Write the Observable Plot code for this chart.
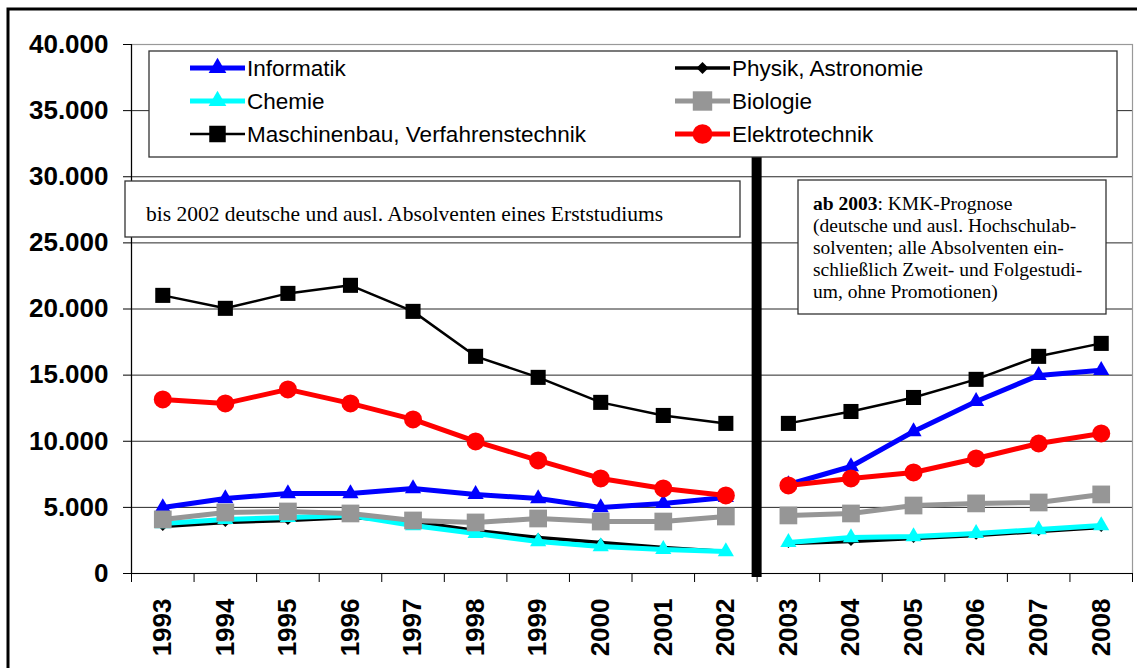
<!DOCTYPE html>
<html>
<head>
<meta charset="utf-8">
<script src="https://cdn.jsdelivr.net/npm/d3@7"></script>
<script src="https://cdn.jsdelivr.net/npm/@observablehq/plot@0.6"></script>
<style>
  html, body { margin: 0; padding: 0; background: #fff; }
  #chart svg { display: block; }
</style>
</head>
<body>
<div id="chart"></div>
<script>
// ---- data ----
const years = [1993,1994,1995,1996,1997,1998,1999,2000,2001,2002,2003,2004,2005,2006,2007,2008];
const informatik     = [4990,5670,6050,6050,6430,5980,5670,4990,5300,5750, 6730,8090,10740,13010,14980,15360];
const physik         = [3550,3860,4010,4240,3930,3250,2720,2350,1970,1660, 2270,2420,2650,2880,3180,3480];
const chemie         = [3780,4090,4240,4390,3630,3030,2420,2040,1820,1660, 2350,2720,2800,3030,3330,3630];
const biologie       = [4090,4610,4690,4540,4010,3860,4160,3930,3930,4310, 4390,4540,5140,5300,5370,5980];
const maschinenbau   = [21030,20050,21180,21790,19820,16420,14830,12940,11950,11350, 11350,12250,13310,14680,16420,17400];
const elektrotechnik = [13160,12860,13920,12860,11650,9990,8550,7190,6430,5900, 6660,7190,7640,8700,9830,10590];
const yTicks = [0,5000,10000,15000,20000,25000,30000,35000,40000];
const lastObserved = 2002;
const note1 = "bis 2002 deutsche und ausl. Absolventen eines Erststudiums";
const note2Bold = "ab 2003";
const note2Lines = [": KMK-Prognose", "(deutsche und ausl. Hochschulab-", "solventen; alle Absolventen ein-", "schließlich Zweit- und Folgestudi-", "um, ohne Promotionen)"];

// series styling (legend order = drawing order)
const series = [
  {name: "Informatik", values: informatik, color: "#0000ff", width: 5, symbol: "triangle", r: 6},
  {name: "Physik, Astronomie", values: physik, color: "#000000", width: 3.5, symbol: "diamond2", r: 4},
  {name: "Chemie", values: chemie, color: "#00ffff", width: 5, symbol: "triangle", r: 6},
  {name: "Biologie", values: biologie, color: "#969696", width: 5, symbol: "square", r: 10},
  {name: "Maschinenbau, Verfahrenstechnik", values: maschinenbau, color: "#000000", width: 2.5, symbol: "square", r: 8.5},
  {name: "Elektrotechnik", values: elektrotechnik, color: "#ff0000", width: 5, symbol: "circle", r: 9}
];

const de = d3.formatLocale({decimal: ",", thousands: ".", grouping: [3], currency: ["", " €"]});
const fmt = de.format(",");

const bounds = d3.range(years[0] - 0.5, years[years.length - 1] + 1, 1);

const marks = [
  Plot.gridY(yTicks.filter(v => v > 0 && v < 40000), {stroke: "#000", strokeOpacity: 0.85, strokeWidth: 1}),
  Plot.frame({stroke: "#999", strokeWidth: 1.2}),
  Plot.axisY(yTicks, {tickSize: 8, tickPadding: 15, tickFormat: fmt, fontSize: 26, fontWeight: "bold", label: null, stroke: "#000"}),
  Plot.axisX(bounds, {tickSize: 9, tickFormat: () => "", label: null, stroke: "#000"}),
  Plot.axisX(years, {tickSize: 0, tickPadding: 25, tickRotate: -90, tickFormat: d => String(d), fontSize: 26, fontWeight: "bold", label: null}),
  Plot.ruleX([bounds[0]], {stroke: "#000", strokeWidth: 1.2}),
  Plot.ruleY([0], {stroke: "#000", strokeWidth: 1.2})
];

for (const s of series) {
  const rows = years.map((y, i) => ({year: y, value: s.values[i], seg: y <= lastObserved ? "a" : "b"}));
  marks.push(Plot.line(rows, {x: "year", y: "value", z: "seg", stroke: s.color, strokeWidth: s.width}));
  marks.push(Plot.dot(rows, {x: "year", y: "value", symbol: () => s.symbol, r: s.r, fill: s.color, stroke: "none"}));
}

const plot = Plot.plot({
  width: 1137,
  height: 668,
  marginLeft: 131,
  marginRight: 5,
  marginTop: 44,
  marginBottom: 95,
  x: {type: "linear", domain: [bounds[0], bounds[bounds.length - 1]]},
  y: {domain: [0, 40000]},
  style: {fontFamily: "'Liberation Sans', Arial, sans-serif", background: "#fff", color: "#000"},
  marks
});

document.getElementById("chart").appendChild(plot);

// ---- annotations drawn with the plot's own scales ----
const svg = d3.select(plot);
const X = plot.scale("x"), Y = plot.scale("y");

// separator between observed and forecast
const sx = X.apply(lastObserved + 0.5);
svg.append("line")
  .attr("x1", sx).attr("x2", sx)
  .attr("y1", 155).attr("y2", Y.apply(0) + 4)
  .attr("stroke", "#000").attr("stroke-width", 10);

// legend box
const lg = svg.append("g").attr("text-anchor", "start");
lg.append("rect").attr("x", 149).attr("y", 51).attr("width", 968).attr("height", 106)
  .attr("fill", "#fff").attr("stroke", "#333").attr("stroke-width", 1.3);
const symMap = {triangle: d3.symbolTriangle, diamond2: d3.symbolDiamond2, square: d3.symbolSquare, circle: d3.symbolCircle};
series.forEach((s, i) => {
  const col = i % 2, row = Math.floor(i / 2);
  const x0 = col === 0 ? 190 : 675;
  const y0 = 68 + row * 33;
  lg.append("line").attr("x1", x0).attr("x2", x0 + 55).attr("y1", y0).attr("y2", y0)
    .attr("stroke", s.color).attr("stroke-width", s.width);
  lg.append("path").attr("d", d3.symbol(symMap[s.symbol], Math.PI * s.r * s.r * (s.symbol === "diamond2" ? 1.8 : 1.2))())
    .attr("transform", `translate(${x0 + 27.5},${y0})`).attr("fill", s.color);
  lg.append("text").attr("x", x0 + 57).attr("y", y0).attr("dy", "0.35em")
    .attr("font-size", 22.5).attr("font-family", "'Liberation Sans', Arial, sans-serif")
    .text(s.name);
});

// note 1
const n1 = svg.append("g").attr("text-anchor", "start");
n1.append("rect").attr("x", 125).attr("y", 181).attr("width", 615).attr("height", 56)
  .attr("fill", "#fff").attr("stroke", "#333").attr("stroke-width", 1.3);
n1.append("text").attr("x", 146).attr("y", 221).attr("font-size", 21.5)
  .attr("font-family", "'Liberation Serif', 'Times New Roman', serif").text(note1);

// note 2
const n2 = svg.append("g").attr("text-anchor", "start");
n2.append("rect").attr("x", 798).attr("y", 180).attr("width", 308).attr("height", 134)
  .attr("fill", "#fff").attr("stroke", "#333").attr("stroke-width", 1.3);
note2Lines.forEach((line, i) => {
  const t = n2.append("text").attr("x", 813).attr("y", 210 + i * 22).attr("font-size", 19.5)
    .attr("font-family", "'Liberation Serif', 'Times New Roman', serif");
  if (i === 0) t.append("tspan").attr("font-weight", "bold").text(note2Bold);
  t.append("tspan").text(line);
});

// outer frame
svg.append("rect").attr("x", 8).attr("y", 9).attr("width", 1140).attr("height", 670)
  .attr("fill", "none").attr("stroke", "#000").attr("stroke-width", 3);
</script>
</body>
</html>
